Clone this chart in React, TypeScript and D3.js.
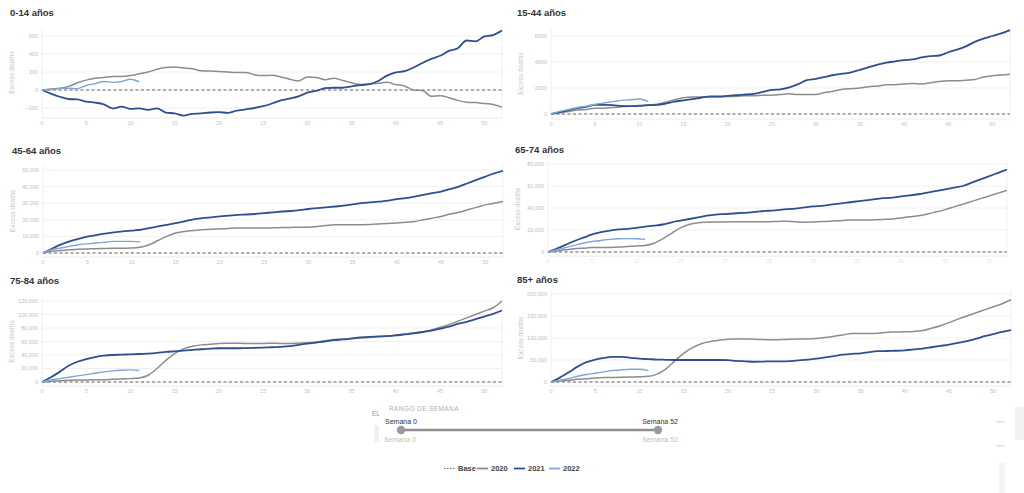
import React from "react"
import * as d3 from "d3"

// weekly cumulative excess deaths, week 0..52 (2022 only up to week 11)
const weeks = d3.range(0, 53)

const age0_14_2020 = [0, 10, 20, 40, 80, 110, 130, 140, 150, 150, 160, 180, 200, 230, 250, 255, 245, 235, 215, 210, 205, 200, 195, 195, 170, 160, 165, 145, 120, 100, 145, 140, 115, 130, 105, 80, 60, 65, 75, 85, 60, 45, 0, -5, -70, -65, -85, -115, -135, -140, -150, -160, -190]
const age0_14_2021 = [0, -40, -75, -100, -105, -130, -140, -160, -205, -185, -210, -205, -220, -205, -250, -260, -285, -265, -260, -250, -245, -255, -230, -215, -200, -180, -150, -115, -95, -70, -30, -10, 20, 25, 25, 40, 55, 65, 100, 160, 195, 210, 250, 300, 345, 380, 435, 465, 550, 540, 595, 610, 660]
const age0_14_2022 = [0, 5, 15, 20, 15, 50, 70, 95, 85, 95, 120, 90]

const age15_44_2020 = [0, 100, 200, 300, 350, 450, 450, 500, 550, 600, 650, 700, 750, 900, 1100, 1250, 1300, 1300, 1300, 1300, 1350, 1350, 1400, 1400, 1450, 1450, 1500, 1550, 1500, 1500, 1500, 1650, 1750, 1900, 1950, 2000, 2100, 2150, 2250, 2250, 2300, 2350, 2300, 2400, 2500, 2550, 2550, 2600, 2650, 2850, 2950, 3000, 3050]
const age15_44_2021 = [0, 150, 300, 450, 550, 700, 700, 680, 620, 600, 620, 680, 700, 800, 950, 1050, 1150, 1250, 1350, 1350, 1400, 1450, 1500, 1550, 1700, 1850, 1900, 2050, 2300, 2600, 2700, 2850, 3000, 3100, 3200, 3400, 3600, 3800, 3950, 4050, 4150, 4200, 4350, 4450, 4500, 4750, 4950, 5200, 5550, 5800, 6000, 6200, 6450]
const age15_44_2022 = [0, 200, 350, 500, 600, 750, 850, 950, 1050, 1100, 1150, 950]

const age45_64_2020 = [0, 1000, 1500, 2000, 2200, 2400, 2600, 2700, 2800, 2900, 3000, 3500, 5000, 7500, 10000, 12000, 13000, 13500, 14000, 14300, 14500, 14800, 15000, 15000, 15000, 15000, 15200, 15300, 15400, 15500, 15500, 16000, 16500, 17000, 17000, 17000, 17000, 17200, 17500, 17800, 18000, 18500, 19000, 20000, 21000, 22000, 23500, 24500, 26000, 27500, 29000, 30000, 31000]
const age45_64_2021 = [0, 2500, 5000, 7000, 8500, 9800, 10800, 11700, 12400, 13000, 13500, 14000, 15000, 16000, 17000, 18000, 19000, 20300, 21000, 21500, 22000, 22500, 23000, 23200, 23500, 24000, 24500, 25000, 25300, 25800, 26500, 27000, 27500, 28000, 28500, 29300, 30000, 30500, 31000, 31500, 32500, 33000, 34000, 35000, 36000, 37000, 38500, 40000, 42000, 44000, 46000, 48000, 49500]
const age45_64_2022 = [0, 2000, 3000, 4000, 5000, 5500, 6000, 6500, 7000, 7000, 7000, 6700]

const age65_74_2020 = [0, 1000, 2000, 3000, 3500, 4000, 4000, 4200, 4500, 5000, 5500, 6000, 8000, 12000, 17000, 22000, 25000, 26500, 27000, 27200, 27300, 27400, 27500, 27500, 27500, 27600, 27800, 28000, 27500, 27000, 27300, 27700, 28000, 28500, 29000, 29000, 29000, 29300, 29600, 30000, 31000, 32000, 33000, 34500, 36500, 38500, 41000, 43500, 46000, 48500, 51000, 53500, 56000]
const age65_74_2021 = [0, 3000, 6500, 10000, 13000, 16000, 18000, 19500, 20500, 21000, 22000, 23000, 24000, 25000, 27000, 28500, 30000, 31500, 33000, 34000, 34500, 35000, 35500, 36000, 37000, 37500, 38000, 39000, 39500, 40500, 41500, 42000, 43000, 44000, 45000, 46000, 47000, 48000, 49000, 49500, 50500, 51500, 52500, 54000, 55500, 57000, 58500, 60000, 63000, 66000, 69000, 72000, 75000]
const age65_74_2022 = [0, 2000, 4000, 6000, 8000, 9500, 10500, 11500, 12000, 12200, 12000, 11500]

const age75_84_2020 = [0, 1000, 2000, 2500, 3000, 3000, 3500, 3500, 4000, 4500, 5000, 6000, 10000, 20000, 32000, 42000, 49000, 53000, 55000, 56000, 57000, 57500, 57500, 57000, 57000, 57000, 57500, 57000, 57000, 57500, 58000, 59000, 61000, 63000, 63500, 64000, 65000, 66000, 67000, 68000, 69500, 71000, 72500, 74500, 77000, 81000, 85000, 90000, 95000, 100000, 105000, 110000, 120000]
const age75_84_2021 = [0, 7000, 15000, 24000, 30000, 34000, 37000, 39000, 40000, 40500, 41000, 41500, 42000, 43000, 44500, 45500, 46500, 47500, 48500, 49500, 50000, 50000, 50000, 50200, 50500, 51000, 51500, 52000, 53000, 55000, 57000, 58500, 60000, 62000, 63000, 64500, 66000, 67000, 67500, 68000, 69000, 70500, 72000, 74000, 76000, 79000, 82000, 86000, 89000, 93000, 97000, 101000, 106000]
const age75_84_2022 = [0, 3000, 5000, 7000, 9000, 11000, 13000, 15000, 16500, 17500, 18000, 17000]

const age85_2020 = [0, 2000, 4000, 6000, 7500, 9000, 10000, 10500, 11000, 11500, 12000, 13000, 18000, 30000, 48000, 65000, 78000, 87000, 92000, 95000, 97000, 98000, 98000, 97000, 96500, 96000, 96500, 97000, 97500, 98000, 99000, 101000, 104000, 107000, 110000, 110000, 110000, 111000, 113000, 113500, 114000, 115000, 117000, 122000, 128000, 135000, 143000, 150000, 157000, 164000, 171000, 178000, 187000]
const age85_2021 = [0, 10000, 22000, 35000, 45000, 51000, 55000, 57000, 57000, 55000, 53000, 52000, 51000, 50500, 50000, 50000, 50000, 50000, 50000, 50000, 49500, 48000, 47000, 46000, 46500, 47000, 47000, 47500, 49000, 51000, 53000, 56000, 59000, 62000, 64000, 65000, 68000, 70000, 70500, 71000, 72000, 74000, 76000, 79000, 82000, 85000, 89000, 93000, 98000, 104000, 109000, 114000, 118000]
const age85_2022 = [0, 4000, 8000, 13000, 17000, 20000, 23000, 26000, 28000, 29000, 29000, 26000]

const xTicks = [0, 5, 10, 15, 20, 25, 30, 35, 40, 45, 50]
const ticks0_14 = [-200, 0, 200, 400, 600]
const ticks15_44 = [0, 2000, 4000, 6000]
const ticks45_64 = [0, 10000, 20000, 30000, 40000, 50000]
const ticks65_74 = [0, 20000, 40000, 60000, 80000]
const ticks75_84 = [0, 20000, 40000, 60000, 80000, 100000, 120000]
const ticks85 = [0, 50000, 100000, 150000, 200000]

const legendItems = ["Base", "2020", "2021", "2022"]

const C2020 = "#8c8c8c"
const C2021 = "#2d508f"
const C2022 = "#7ea8d6"
const FONT = "'Liberation Sans', Arial, sans-serif"

const panels = [
  { title: "0-14 años", s20: age0_14_2020, s21: age0_14_2021, s22: age0_14_2022, ticks: ticks0_14, domain: [-311, 700], x: [42, 502], y: [118, 27], tx: 10, ty: 16, fmt: d3.format("d"), xLab: "#c4c4c4" },
  { title: "15-44 años", s20: age15_44_2020, s21: age15_44_2021, s22: age15_44_2022, ticks: ticks15_44, domain: [-385, 6615], x: [551, 1010], y: [119, 28], tx: 517, ty: 16, fmt: d3.format("d"), xLab: "#c4c4c4" },
  { title: "45-64 años", s20: age45_64_2020, s21: age45_64_2021, s22: age45_64_2022, ticks: ticks45_64, domain: [-2410, 53010], x: [43, 503], y: [257, 165], tx: 12, ty: 154, fmt: d3.format(","), xLab: "#c4c4c4" },
  { title: "65-74 años", s20: age65_74_2020, s21: age65_74_2021, s22: age65_74_2022, ticks: ticks65_74, domain: [-3636, 81818], x: [548, 1007], y: [256, 162], tx: 515, ty: 153, fmt: d3.format(","), xLab: "#e6e6e6" },
  { title: "75-84 años", s20: age75_84_2020, s21: age75_84_2021, s22: age75_84_2022, ticks: ticks75_84, domain: [-5926, 125926], x: [42, 502], y: [386, 297], tx: 10, ty: 284, fmt: d3.format(","), xLab: "#c4c4c4" },
  { title: "85+ años", s20: age85_2020, s21: age85_2021, s22: age85_2022, ticks: ticks85, domain: [-9091, 209091], x: [551, 1011], y: [386, 290], tx: 517, ty: 283, fmt: d3.format(","), xLab: "#c4c4c4" },
]

function Panel({ p }: { p: (typeof panels)[number] }) {
  const x = d3.scaleLinear().domain([0, 52]).range(p.x)
  const y = d3.scaleLinear().domain(p.domain).range(p.y)
  const line = d3
    .line<number>()
    .x((_, i) => x(weeks[i]))
    .y((d) => y(d))
    .curve(d3.curveMonotoneX)
  const midY = (p.y[0] + p.y[1]) / 2

  return (
    <g>
      <text x={p.tx} y={p.ty} fontSize={9.5} fontWeight="bold" fill="#333">
        {p.title}
      </text>
      {/* grid */}
      {p.ticks.map((t) => (
        <g key={t}>
          <line x1={p.x[0]} x2={p.x[1]} y1={y(t)} y2={y(t)} stroke="#ececec" strokeWidth={0.8} />
          <text x={p.x[0] - 4} y={y(t) + 2} fontSize={5.5} fill="#bdbdbd" textAnchor="end">
            {p.fmt(t)}
          </text>
        </g>
      ))}
      <line x1={p.x[0]} x2={p.x[0]} y1={p.y[0]} y2={p.y[1]} stroke="#ececec" strokeWidth={0.8} />
      <line x1={p.x[1]} x2={p.x[1]} y1={p.y[0]} y2={p.y[1]} stroke="#ececec" strokeWidth={0.8} />
      <line x1={p.x[0]} x2={p.x[1]} y1={p.y[0]} y2={p.y[0]} stroke="#e4e4e4" strokeWidth={0.8} />
      {xTicks.map((t) => (
        <text key={t} x={x(t)} y={p.y[0] + 7} fontSize={5.5} fill={p.xLab} textAnchor="middle">
          {t}
        </text>
      ))}
      <text
        transform={`translate(${p.x[0] - 28},${midY}) rotate(-90)`}
        fontSize={6.5}
        fill="#c8c8c8"
        textAnchor="middle"
      >
        Excess deaths
      </text>
      {/* base */}
      <line x1={x(0)} x2={x(52)} y1={y(0)} y2={y(0)} stroke="#666" strokeWidth={1} strokeDasharray="3,2.5" />
      <path d={line(p.s20) || ""} fill="none" stroke={C2020} strokeWidth={1.5} />
      <path d={line(p.s21) || ""} fill="none" stroke={C2021} strokeWidth={1.8} />
      <path d={line(p.s22) || ""} fill="none" stroke={C2022} strokeWidth={1.4} />
    </g>
  )
}

export default function App() {
  const legendX = [444, 477, 514, 549]
  const legendColor = ["#666", C2020, C2021, C2022]
  return (
    <svg
      width={1024}
      height={493}
      style={{ position: "absolute", left: 0, top: 0, background: "#fff" }}
      fontFamily={FONT}
    >
      {panels.map((p) => (
        <Panel key={p.title} p={p} />
      ))}

      {/* week range slider */}
      <text x={372} y={416} fontSize={6.5} fill="#999">
        EL
      </text>
      <rect x={374} y={425} width={5} height={17} fill="#f1f1f1" />
      <text x={389} y={411} fontSize={6.5} fill="#b0b0b0" letterSpacing={0.4}>
        RANGO DE SEMANA
      </text>
      <text x={385} y={424} fontSize={7} fill="#333">
        Semana 0
      </text>
      <text x={678} y={424} fontSize={7} fill="#333" textAnchor="end">
        Semana 52
      </text>
      <line x1={401} x2={658} y1={430} y2={430} stroke="#8e8e8e" strokeWidth={2.5} />
      <circle cx={401} cy={430} r={4.2} fill="#9a9a9a" />
      <circle cx={658} cy={430} r={4.2} fill="#9a9a9a" />
      <text x={384} y={442} fontSize={7} fill="#c0c0c0">
        Semana 0
      </text>
      <text x={678} y={442} fontSize={7} fill="#c0c0c0" textAnchor="end">
        Semana 52
      </text>

      {/* right edge fragments */}
      <rect x={1015} y={407} width={9} height={33} fill="#f2f2f2" />
      <rect x={996} y={421} width={9} height={1.5} fill="#e2e2e2" />
      <rect x={996} y={445} width={9} height={1.5} fill="#e2e2e2" />
      <rect x={999} y={463} width={6} height={30} fill="#f4f4f4" />

      {/* legend */}
      {legendItems.map((name, i) => (
        <g key={name}>
          <line
            x1={legendX[i]}
            x2={legendX[i] + 11}
            y1={468.5}
            y2={468.5}
            stroke={legendColor[i]}
            strokeWidth={i === 0 ? 1 : 1.8}
            strokeDasharray={i === 0 ? "1.5,1.5" : undefined}
          />
          <text x={legendX[i] + 14} y={471} fontSize={7.5} fontWeight="bold" fill="#444">
            {name}
          </text>
        </g>
      ))}
    </svg>
  )
}
